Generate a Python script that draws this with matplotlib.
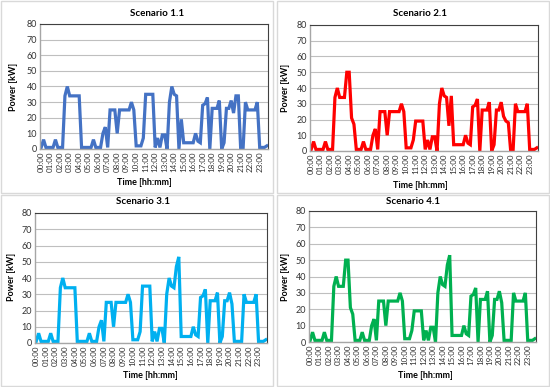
import matplotlib
matplotlib.use("Agg")
import matplotlib.pyplot as plt
from matplotlib.patches import Rectangle

plt.rcParams['font.family'] = ['Lato', 'DejaVu Sans']

titles = ["Scenario 1.1", "Scenario 2.1", "Scenario 3.1", "Scenario 4.1"]
colors = ["#4472C4", "#FF0000", "#00B0F0", "#00B050"]
hour_labels = ["%02d:00" % h for h in range(24)]

s1 = [1, 6, 1, 1, 1, 1, 6, 1, 1, 1,
      34, 40, 34, 34, 34, 34, 34, 1, 1, 1,
      1, 1, 6, 1, 1, 1, 10, 14, 1, 25,
      25, 25, 10, 25, 25, 25, 25, 25, 30, 25,
      2, 2, 2, 7, 35, 35, 35, 35, 1, 7,
      1, 9, 9, 0, 30, 40, 35, 34, 0, 19,
      4, 4, 4, 4, 4, 10, 5, 4, 28, 29,
      33, 0, 26, 26, 26, 31, 0, 4, 26, 26,
      31, 23, 34, 34, 0, 0, 30, 25, 25, 25,
      25, 30, 1, 1, 1, 2]
s2 = [1, 6, 1, 1, 1, 1, 6, 1, 1, 1,
      34, 40, 34, 34, 34, 50, 50, 21, 17, 1,
      1, 1, 6, 1, 1, 1, 10, 14, 1, 25,
      25, 25, 10, 25, 25, 25, 25, 25, 30, 25,
      2, 2, 2, 7, 19, 19, 19, 19, 1, 7,
      1, 9, 9, 0, 30, 40, 35, 34, 16, 35,
      4, 4, 4, 4, 4, 10, 5, 4, 28, 29,
      33, 0, 26, 26, 26, 31, 0, 4, 26, 26,
      31, 22, 19, 18, 0, 0, 30, 25, 25, 25,
      25, 30, 1, 1, 1, 2]
s3 = [1, 6, 1, 1, 1, 1, 6, 1, 1, 1,
      34, 40, 34, 34, 34, 34, 34, 1, 1, 1,
      1, 1, 6, 1, 1, 1, 10, 14, 1, 25,
      25, 25, 10, 25, 25, 25, 25, 25, 30, 25,
      2, 2, 2, 7, 35, 35, 35, 35, 1, 7,
      1, 9, 9, 0, 30, 40, 35, 34, 47, 53,
      4, 4, 4, 4, 4, 10, 5, 4, 28, 29,
      33, 0, 26, 26, 26, 31, 0, 4, 26, 26,
      31, 24, 1, 1, 1, 1, 30, 25, 25, 25,
      25, 30, 1, 1, 1, 2]
s4 = [1, 6, 1, 1, 1, 1, 6, 1, 1, 1,
      34, 40, 34, 34, 34, 50, 50, 21, 17, 1,
      1, 1, 6, 1, 1, 1, 10, 14, 1, 25,
      25, 25, 10, 25, 25, 25, 25, 25, 30, 25,
      2, 2, 2, 7, 19, 19, 19, 19, 1, 7,
      1, 9, 9, 0, 30, 40, 35, 34, 47, 53,
      4, 4, 4, 4, 4, 10, 5, 4, 28, 29,
      33, 0, 26, 26, 26, 31, 0, 4, 26, 26,
      31, 24, 1, 1, 1, 1, 30, 25, 25, 25,
      25, 30, 1, 1, 1, 2]
series = [s1, s2, s3, s4]

W, H = 550, 387
fig = plt.figure(figsize=(W / 100, H / 100), dpi=100)

# axes rects in pixels: left, right, top, bottom
rects = [(40, 268, 24, 149), (310, 538, 25, 151),
         (35, 267, 213, 343), (309, 536, 211, 342)]
title_pos = [(157, 13), (420, 14), (143, 201), (413, 201)]
ylab_pos = [(14, 87), (285, 88), (12, 277), (286, 277)]
xlab_pos = [(144, 183), (420, 185), (150, 376), (425, 376)]
panels = [(1, 1, 272, 192), (277, 1, 272, 192), (1, 195, 272, 191), (277, 195, 272, 191)]

for (px, py, pw, ph) in panels:
    fig.patches.append(Rectangle((px / W, 1 - (py + ph) / H), pw / W, ph / H,
                                 transform=fig.transFigure, fill=False,
                                 edgecolor="#D9D9D9", linewidth=1.0))

for k in range(4):
    l, r, t, b = rects[k]
    ax = fig.add_axes([l / W, 1 - b / H, (r - l) / W, (b - t) / H])
    x = list(range(len(series[k])))
    ax.plot(x, series[k], color=colors[k], linewidth=2.3, solid_joinstyle="miter")
    ax.set_xlim(-0.5, len(series[k]) - 0.5)
    ax.set_ylim(0, 80)
    ax.set_yticks(range(0, 81, 10))
    ax.set_xticks(range(0, 96, 4))
    ax.set_xticklabels(hour_labels, rotation=90, fontsize=5.8, color="#333333")
    ax.tick_params(axis="y", labelsize=6.5, colors="#333333", length=0, pad=2)
    ax.tick_params(axis="x", length=0, pad=2)
    ax.grid(axis="y", color="#BFBFBF", linewidth=0.8)
    ax.set_axisbelow(True)
    for side in ["top", "right"]:
        ax.spines[side].set_color("#404040")
        ax.spines[side].set_linewidth(0.8)
    for side in ["left", "bottom"]:
        ax.spines[side].set_color("#A6A6A6")
        ax.spines[side].set_linewidth(1.0)
    tx, ty = title_pos[k]
    fig.text(tx / W, 1 - ty / H, titles[k], ha="center", va="center",
             fontsize=7, fontweight="bold", color="#000000")
    yx, yy = ylab_pos[k]
    fig.text(yx / W, 1 - yy / H, "Power [kW]", ha="center", va="center",
             rotation=90, fontsize=6.5, fontweight="bold", color="#000000")
    xx, xy = xlab_pos[k]
    fig.text(xx / W, 1 - xy / H, "Time [hh:mm]", ha="center", va="center",
             fontsize=6.5, fontweight="bold", color="#000000")

fig.savefig("out.png", dpi=100)
